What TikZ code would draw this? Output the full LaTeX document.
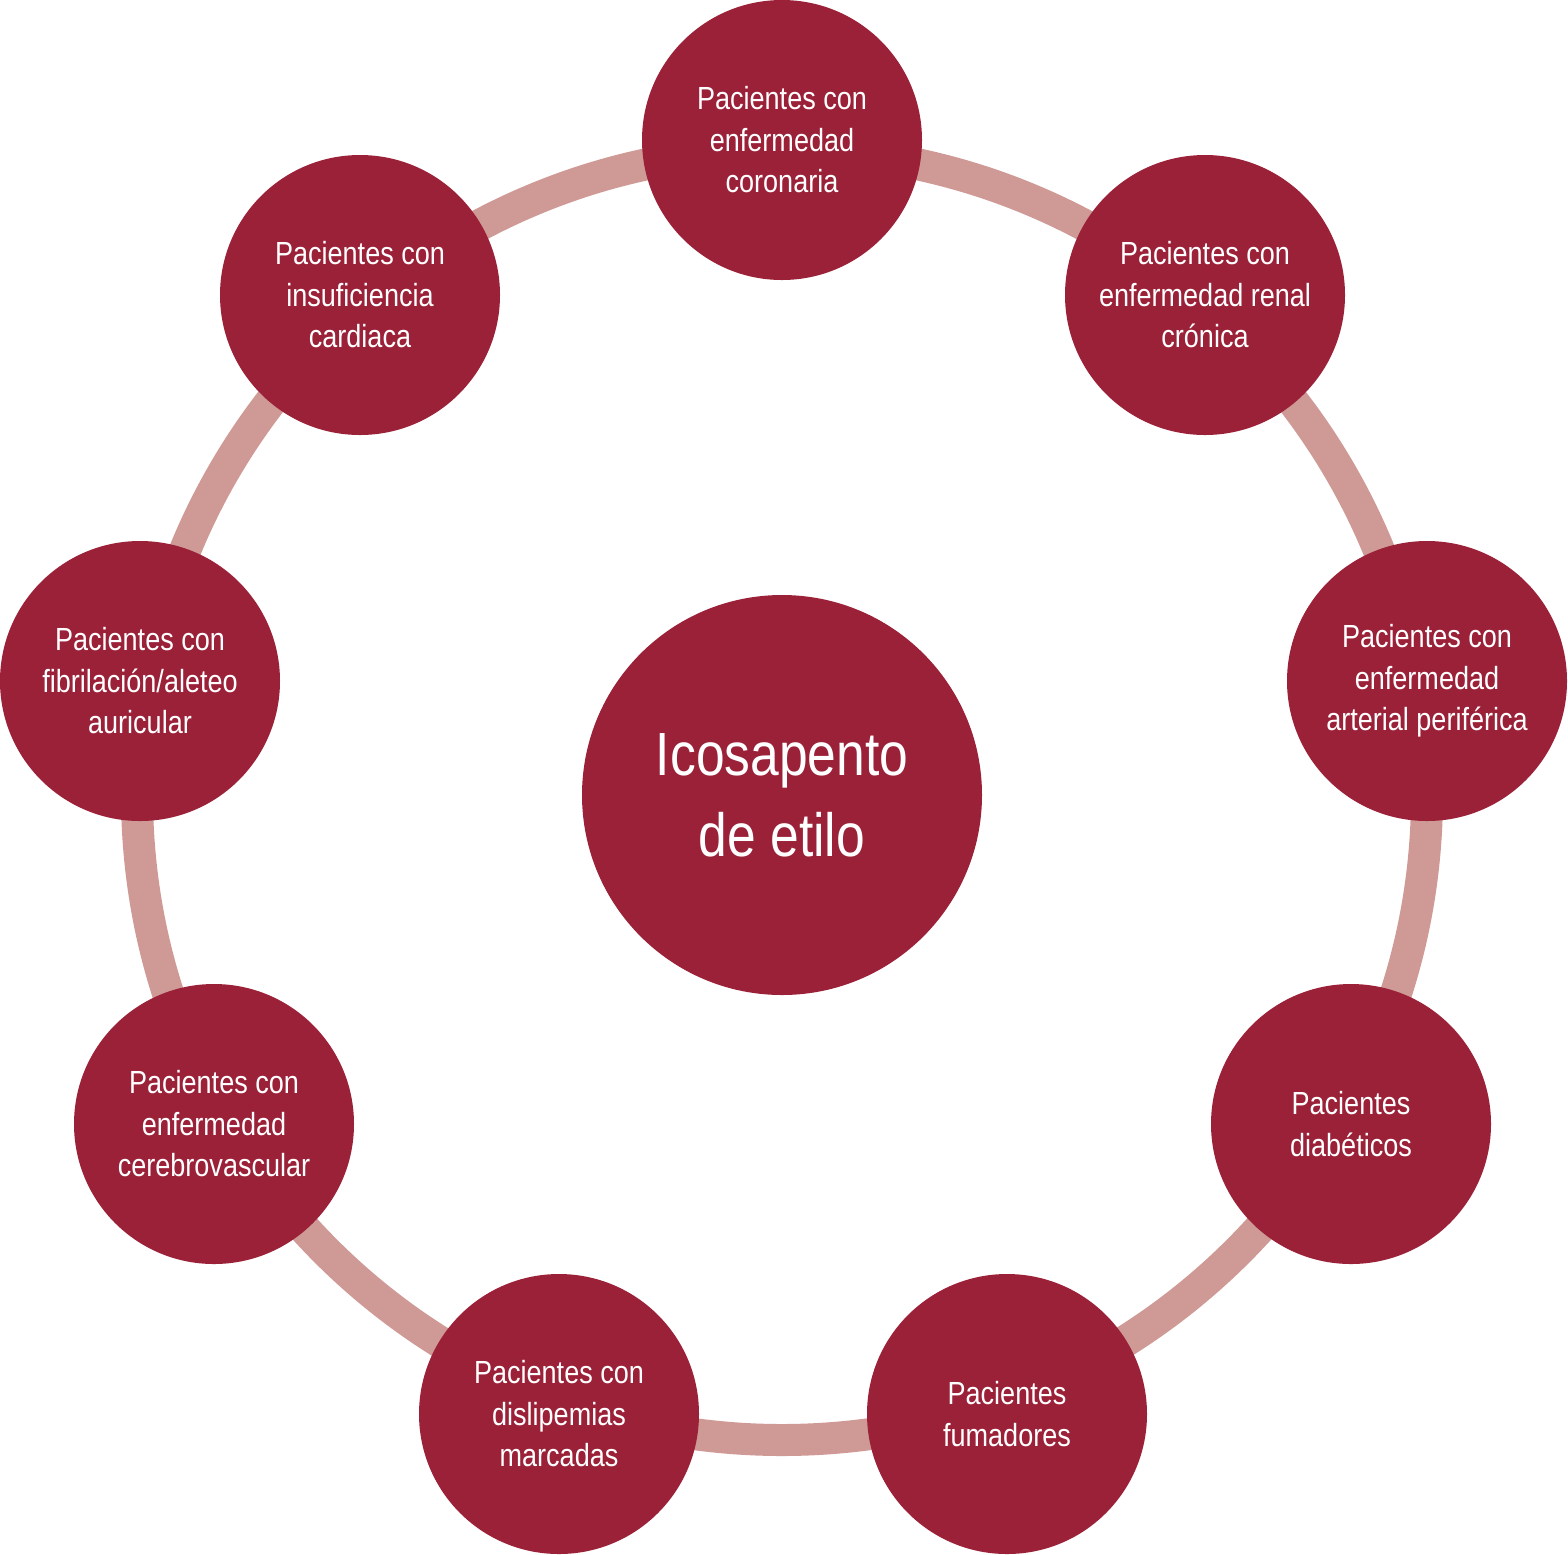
\documentclass[tikz,border=0pt]{standalone}
\usepackage{fontspec}
\setmainfont{Liberation Sans}[FakeStretch=0.845]
\definecolor{nodered}{HTML}{9B2138}
\definecolor{ringpink}{HTML}{CF9A96}
\begin{document}
\begin{tikzpicture}[x=0.5pt,y=-0.5pt,
  sat/.style={circle,fill=nodered,draw=none,inner sep=0pt,minimum size=140pt,
    text=white,align=center,font=\fontsize{16}{20.75}\selectfont},
  hub/.style={circle,fill=nodered,draw=none,inner sep=0pt,minimum size=200pt,
    text=white,align=center,font=\fontsize{30.5}{40.5}\selectfont},
  ring/.style={draw=ringpink,line width=16pt}]
\useasboundingbox (0,0) rectangle (1568,1554);
\coordinate (rc) at (782,795);
\draw[ring] (rc) circle[radius=322.5pt];
\node[hub] (hub) at (782,795) {Icosapento\\de etilo};
\node[sat] (s1) at (782,140) {Pacientes con\\enfermedad\\coronaria};
\node[sat] (s2) at (1205,295) {Pacientes con\\enfermedad renal\\crónica};
\node[sat] (s3) at (1427,681) {Pacientes con\\enfermedad\\arterial periférica};
\node[sat] (s4) at (1351,1124) {Pacientes\\diabéticos};
\node[sat] (s5) at (1007,1414) {Pacientes\\fumadores};
\node[sat] (s6) at (559,1414) {Pacientes con\\dislipemias\\marcadas};
\node[sat] (s7) at (214,1124) {Pacientes con\\enfermedad\\cerebrovascular};
\node[sat] (s8) at (140,681) {Pacientes con\\fibrilación/aleteo\\auricular};
\node[sat] (s9) at (360,295) {Pacientes con\\insuficiencia\\cardiaca};
\end{tikzpicture}
\end{document}
